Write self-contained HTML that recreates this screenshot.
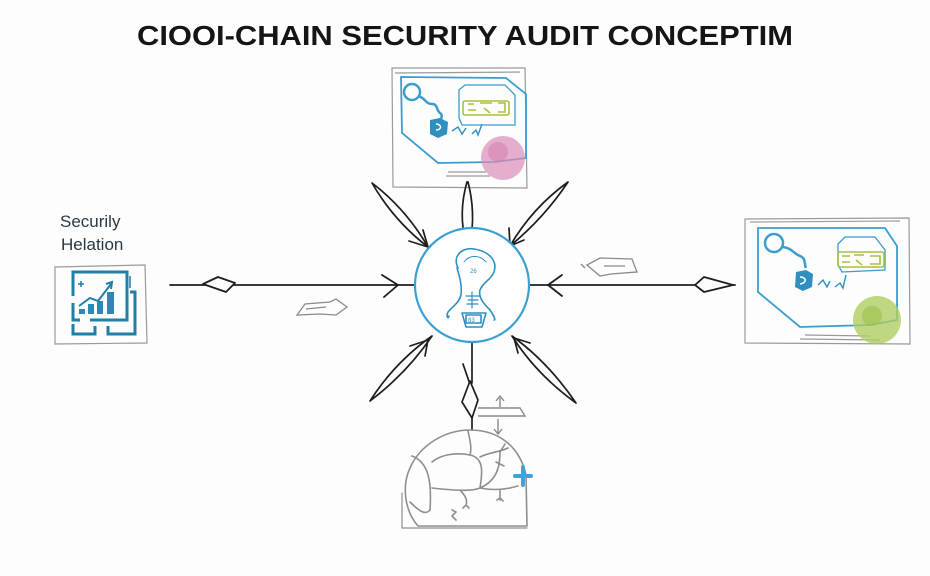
<!DOCTYPE html>
<html>
<head>
<meta charset="utf-8">
<style>
html,body{margin:0;padding:0;background:#fdfdfd;}
svg{display:block;}
</style>
</head>
<body>
<svg width="930" height="576" viewBox="0 0 930 576" xmlns="http://www.w3.org/2000/svg">
<rect width="930" height="576" fill="#fdfdfd"/>

<!-- Title -->
<text x="137" y="45" font-family="Liberation Sans, sans-serif" font-size="28" font-weight="bold" fill="#151515" textLength="656" lengthAdjust="spacingAndGlyphs">CIOOI-CHAIN SECURITY AUDIT CONCEPTIM</text>

<!-- Left label -->
<text x="60" y="227" font-family="Liberation Sans, sans-serif" font-size="17" fill="#2a3845">Securily</text>
<text x="61" y="250" font-family="Liberation Sans, sans-serif" font-size="17" fill="#2a3845">Helation</text>

<!-- Left icon box -->
<g fill="none" stroke="#9a9a9a" stroke-width="1.2">
  <path d="M55,267 L145,265 L147,343 L55,344 Z"/>
</g>
<g fill="none" stroke="#1f7fa6" stroke-width="3">
  <path d="M73,296 L73,272 L127,272 L127,320 L90,320"/>
  <path d="M73,303 L73,320 L80,320"/>
  <path d="M73,324 L73,334 L95,334 L95,326"/>
  <path d="M108,326 L108,334 L135,334 L135,292 L130,292"/>
  <path d="M130,276 L130,288" stroke-width="1.5"/>
  <path d="M78,284 L84,284 M81,281 L81,287" stroke-width="1.5"/>
  <path d="M79,306 L90,298 L98,301 L111,284" stroke-width="2"/>
  <path d="M106,284 L112,282 L111,289" stroke-width="2"/>
</g>
<g fill="#2a8ab5">
  <rect x="79" y="309" width="6" height="5"/>
  <rect x="88" y="304" width="6" height="10"/>
  <rect x="97" y="301" width="6" height="13"/>
  <rect x="107" y="292" width="7" height="22"/>
</g>

<!-- Left connector -->
<g fill="none" stroke="#1e1e1e" stroke-width="1.8" stroke-linecap="round" stroke-linejoin="round">
  <path d="M170,285 L415,285"/>
  <path d="M203,284 L218,277 L235,283 L226,292 Z" fill="#fdfdfd"/>
  <path d="M382,275 L398,285 L384,297"/>
</g>
<g fill="none" stroke="#8a8a8a" stroke-width="1.3">
  <path d="M297,315 L305,304 L330,302 L336,299 L347,307 L336,315 L320,314 Z"/>
  <path d="M306,309 L326,307"/>
</g>

<!-- Right connector -->
<g fill="none" stroke="#1e1e1e" stroke-width="1.8" stroke-linecap="round" stroke-linejoin="round">
  <path d="M529,285 L735,285"/>
  <path d="M695,285 L704,277 L733,285 L704,292 Z" fill="#fdfdfd"/>
  <path d="M562,275 L548,285 L562,296"/>
</g>
<g fill="none" stroke="#8a8a8a" stroke-width="1.3">
  <path d="M587,265 L600,258 L632,259 L637,272 L611,274 L600,276 Z"/>
  <path d="M604,266 L625,266"/>
  <path d="M581,264 L585,268"/>
</g>

<!-- Top box -->
<g fill="none" stroke="#9a9a9a" stroke-width="1.2">
  <path d="M392,68 L525,68 L527,188 L393,187 Z"/>
  <path d="M395,73 L520,72"/>
  <path d="M448,172 L486,172 M446,176 L490,176"/>
</g>
<g fill="none" stroke="#3b9dcc" stroke-width="1.8">
  <path d="M401,77 L506,78 L526,94 L526,158 L494,162 L438,163 L402,133 Z"/>
</g>
<g fill="none" stroke="#3b9dcc" stroke-width="2.5">
  <circle cx="412" cy="92" r="8"/>
  <path d="M418,96 C426,98 425,104 432,104 C438,104 436,110 440,113 C444,116 440,120 440,120"/>
</g>
<path d="M430,120 L440,118 L448,122 L447,134 L438,138 L430,134 Z" fill="#2f8fc0"/>
<path d="M436,124 C442,124 442,130 436,130" stroke="#fff" stroke-width="1.5" fill="none"/>
<path d="M452,131 L458,127 L462,134 L466,128 M472,134 L476,130 L478,135 L482,124" fill="none" stroke="#2f8fc0" stroke-width="1.4"/>
<g fill="none" stroke="#a9c13e" stroke-width="1.6">
  <path d="M459,90 L465,85 L505,85 L515,95 L515,125 L462,125 L459,118 Z" stroke="#3b9dcc" stroke-width="1.3"/>
  <rect x="463" y="101" width="46" height="14" rx="2"/>
  <path d="M468,104 L474,104 M468,110 L476,110 M480,103 L492,103 M484,108 L490,113 M498,103 L505,103 L505,112 L498,112"/>
</g>
<circle cx="503" cy="158" r="22" fill="#dc8bb8" opacity="0.7"/>
<circle cx="498" cy="152" r="10" fill="#d27aab" opacity="0.5"/>

<!-- Right box -->
<g fill="none" stroke="#9a9a9a" stroke-width="1.2">
  <path d="M745,219 L909,218 L910,344 L745,343 Z"/>
  <path d="M750,222 L900,221"/>
  <path d="M805,335 L870,336 M800,339 L880,340"/>
</g>
<g fill="none" stroke="#3b9dcc" stroke-width="1.8">
  <path d="M758,228 L885,228 L897,246 L897,320 L870,325 L800,327 L758,292 Z"/>
</g>
<g fill="none" stroke="#3b9dcc" stroke-width="2.5">
  <circle cx="774" cy="243" r="9"/>
  <path d="M783,247 C792,248 794,254 800,256 C806,258 804,264 806,268"/>
</g>
<path d="M796,272 L806,270 L813,274 L812,287 L803,291 L795,287 Z" fill="#2f8fc0"/>
<path d="M800,277 C807,277 807,283 800,284" stroke="#fff" stroke-width="1.5" fill="none"/>
<path d="M818,285 L823,280 L827,287 L830,281 M835,287 L840,283 L843,288 L846,275" fill="none" stroke="#2f8fc0" stroke-width="1.4"/>
<g fill="none" stroke="#a9c13e" stroke-width="1.6">
  <path d="M838,244 L845,237 L875,237 L885,250 L885,270 L842,272 L838,265 Z" stroke="#3b9dcc" stroke-width="1.3"/>
  <rect x="838" y="252" width="46" height="15" rx="2"/>
  <path d="M842,256 L850,256 M842,262 L850,262 M854,255 L864,255 M856,260 L862,265 M870,256 L880,256 L880,264 L870,264"/>
</g>
<circle cx="877" cy="320" r="24" fill="#afcd62" opacity="0.8"/>
<circle cx="872" cy="316" r="10" fill="#9cbf4c" opacity="0.6"/>

<!-- Diagonal / vertical arrows (leaf shapes) -->
<g fill="none" stroke="#1e1e1e" stroke-width="1.7" stroke-linecap="round" stroke-linejoin="round">
  <!-- top-left -->
  <path d="M372,183 Q394,221 428,247 Q406,209 372,183 Z"/>
  <path d="M409,241 L428,247 L423,230"/>
  <!-- top center -->
  <path d="M467,182 Q458,213 466,243 M468,182 Q476,213 470,243"/>
  <!-- top-right -->
  <path d="M568,182 Q544,218 510,246 Q532,208 568,182 Z"/>
  <path d="M509,228 L510,246 L524,240"/>
  <!-- bottom-left -->
  <path d="M370,401 Q407,373 432,336 Q395,362 370,401 Z"/>
  <path d="M410,346 L428,340 L425,356"/>
  <!-- bottom-right -->
  <path d="M576,403 Q548,362 512,336 Q536,374 576,403 Z"/>
  <path d="M530,343 L514,338 L518,353"/>
  <!-- bottom vertical -->
  <path d="M472,342 L472,383"/>
  <path d="M463,364 L473,393"/>
  <path d="M470,381 L478,400 L472,418 L462,402 Z" fill="#fdfdfd"/>
  <path d="M472,418 L472,430"/>
</g>

<!-- Center circle -->
<circle cx="472" cy="285" r="57" fill="#ffffff" stroke="#3aa0d2" stroke-width="2.2"/>
<g fill="none" stroke="#2f8fc0" stroke-width="1.6" stroke-linecap="round" stroke-linejoin="round">
  <path d="M458,268 C452,256 462,247 474,249 C488,251 498,260 494,272 C491,280 483,282 480,290 C478,298 485,305 490,310 C494,316 496,320 494,320 M457,268 C460,278 462,285 461,295 C459,303 452,307 448,312 C446,316 448,320 449,316"/>
  <path d="M462,313 L486,313 L482,327 L466,327 Z"/>
  <rect x="466" y="315" width="15" height="8"/>
  <path d="M464,262 C470,254 480,255 486,262" stroke-width="1"/>
  <path d="M466,296 L480,296 M468,300 L478,300 M472,292 L472,308 M467,304 L478,304" stroke-width="1.2"/>
</g>
<text x="470" y="273" font-family="Liberation Sans, sans-serif" font-size="6" fill="#2f8fc0">26</text>
<text x="468" y="322" font-family="Liberation Sans, sans-serif" font-size="6" fill="#2f8fc0">83</text>

<!-- small widget near bottom -->
<g fill="none" stroke="#8a8a8a" stroke-width="1.4">
  <path d="M478,408 L520,408 L525,416 L478,416"/>
  <path d="M500,407 L500,398 M496,401 L500,396 L504,401"/>
  <path d="M498,419 L498,433 M494,429 L498,434 L502,429"/>
</g>

<!-- Globe -->
<g fill="none" stroke="#8f8f8f" stroke-width="1.6" stroke-linecap="round" stroke-linejoin="round">
  <path d="M418,526 C404,510 402,485 410,468 C420,445 445,430 470,430 C500,430 520,448 526,475 L527,526 Z"/>
  <path d="M402,493 L402,528 L527,528" stroke-width="1.2"/>
  <path d="M412,456 C428,462 432,480 430,510 C425,516 418,510 410,502"/>
  <path d="M432,462 C440,455 455,452 470,455 C485,458 482,475 480,488 C470,492 450,490 432,488"/>
  <path d="M468,431 C470,440 472,448 470,455"/>
  <path d="M480,457 C490,452 500,452 508,448 M500,452 L505,444"/>
  <path d="M500,452 C500,465 498,480 480,488"/>
  <path d="M480,488 C490,490 500,490 510,488 L518,486 M500,490 L500,500 M497,500 L500,498 L503,501"/>
  <path d="M460,490 C465,495 468,500 466,505 M466,505 L463,508 M466,505 L469,508"/>
  <path d="M452,510 L456,512 L452,516 L456,520"/>
  <path d="M496,462 L504,466"/>
</g>
<path d="M523,467 L523,485 M515,476 L531,476" stroke="#3aa5dc" stroke-width="4" stroke-linecap="round"/>
</svg>
</body>
</html>
